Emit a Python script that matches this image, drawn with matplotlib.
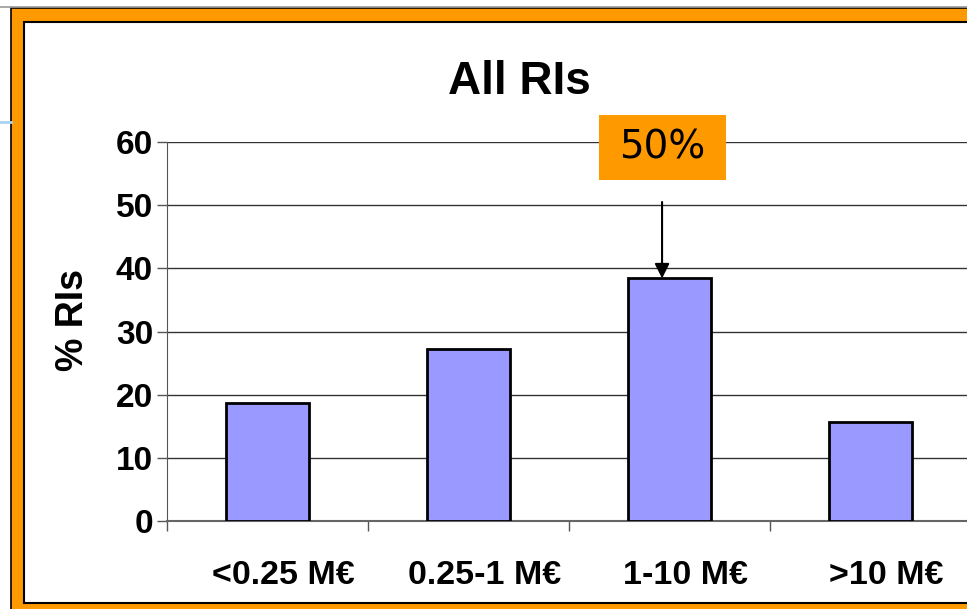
import matplotlib.pyplot as plt
from matplotlib.patches import Rectangle
from matplotlib.lines import Line2D
from matplotlib.transforms import ScaledTranslation

categories = ['<0.25 M€', '0.25-1 M€', '1-10 M€', '>10 M€']
values = [18.7, 27.2, 38.4, 15.7]
highlight_label = '50%'
highlight_index = 2

W, H = 967, 609
fig = plt.figure(figsize=(W / 100, H / 100), dpi=100)
fig.patch.set_facecolor('white')


def fx(px):
    return px / W


def fy(py):
    return 1 - py / H


# slide frame decoration
fig.patches.append(Rectangle((fx(11), fy(620)), fx(1000) - fx(11), fy(8) - fy(620),
                             transform=fig.transFigure, facecolor='#FF9900',
                             edgecolor='black', lw=1.2, zorder=-10))
fig.patches.append(Rectangle((fx(24), fy(603)), fx(1000) - fx(24), fy(22) - fy(603),
                             transform=fig.transFigure, facecolor='white',
                             edgecolor='black', lw=1.5, zorder=-9))
fig.lines.append(Line2D([0, 1], [fy(7), fy(7)], transform=fig.transFigure,
                        color='#999999', lw=1.2, zorder=-8))
fig.lines.append(Line2D([0, fx(11)], [fy(122), fy(122)], transform=fig.transFigure,
                        color='#A9D3F0', lw=2, zorder=-8))

ax = fig.add_axes([fx(167), fy(521), fx(971) - fx(167), fy(142) - fy(521)])
ax.set_facecolor('none')

x = range(len(categories))
ax.bar(x, values, width=0.41, color='#9999FF', edgecolor='black', lw=2, zorder=3)

ax.set_xlim(-0.5, len(categories) - 0.5)
ax.set_ylim(0, 60)
ax.set_yticks(range(0, 61, 10))
ax.yaxis.grid(True, color='#333333', lw=1)
ax.set_axisbelow(True)

bold = dict(family=['Liberation Sans', 'DejaVu Sans'], weight='bold')
ax.set_yticklabels([str(v) for v in range(0, 61, 10)], fontsize=24, **bold)
ax.tick_params(axis='y', length=7, width=1, color='#555555', pad=3)

ax.set_xticks(list(x))
ax.set_xticklabels(categories, fontsize=24.5, **bold)
ax.tick_params(axis='x', length=0, pad=28)
ax.set_xticks([i - 0.5 for i in x], minor=True)
ax.tick_params(axis='x', which='minor', length=7, width=1, color='#555555')
shift = ScaledTranslation(16 / 100, 0, fig.dpi_scale_trans)
for lab in ax.get_xticklabels():
    lab.set_transform(lab.get_transform() + shift)

for s in ['top', 'right']:
    ax.spines[s].set_visible(False)
ax.spines['left'].set_color('#555555')
ax.spines['bottom'].set_color('#666666')
ax.spines['bottom'].set_linewidth(1.5)

ax.set_ylabel('% RIs', fontsize=27, **bold)
ax.yaxis.set_label_coords(-0.095, 0.53)
fig.text(fx(519), fy(82), 'All RIs', ha='center', va='center', fontsize=33, **bold)

# highlight box and arrow
xa = highlight_index - 0.037
ax.add_patch(Rectangle((1.649, 54.0), 0.632, 10.3, facecolor='#FF9900',
                       edgecolor='none', clip_on=False, zorder=4))
ax.text(xa, 59.1, highlight_label, ha='center', va='center', fontsize=28,
        family='DejaVu Sans', zorder=5, clip_on=False)
ax.annotate('', xy=(xa, values[highlight_index]), xytext=(xa, 50.5),
            arrowprops=dict(arrowstyle='-|>', color='black', lw=1.5,
                            mutation_scale=22, shrinkA=0, shrinkB=0), zorder=5)

fig.savefig('out.png', dpi=100)
